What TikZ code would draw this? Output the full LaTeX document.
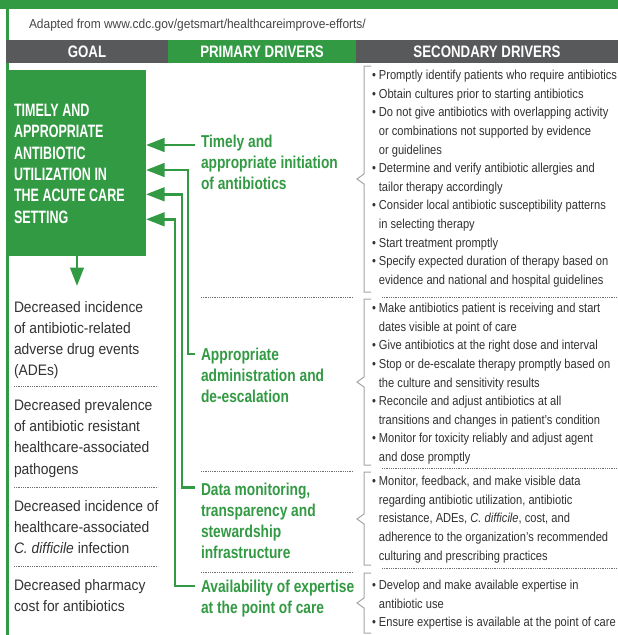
\documentclass[tikz,border=0pt]{standalone}
\usepackage{fontspec}
\setmainfont{Liberation Sans}
\newfontfamily\fsec{Liberation Sans}[FakeStretch=0.856]
\newfontfamily\fout{Liberation Sans}[FakeStretch=0.91]
\newfontfamily\fprim{Liberation Sans}[FakeStretch=0.80]
\newfontfamily\fgoal{Liberation Sans}[FakeStretch=0.70]
\newfontfamily\fhead{Liberation Sans}[FakeStretch=0.80]
\newfontfamily\fadapt{Liberation Sans}[FakeStretch=0.92]
\usetikzlibrary{arrows.meta}
\definecolor{gr}{RGB}{51,154,68}
\definecolor{hdr}{RGB}{88,89,91}
\definecolor{txt}{RGB}{50,50,50}
\definecolor{brc}{RGB}{165,165,165}
\definecolor{dotc}{RGB}{110,110,110}
\newcommand\bracegroup[3]{\draw[bracestyle] (371,#1) -- (364,#1) -- (364,#3-5) -- (357,#3) -- (364,#3+5) -- (364,#2) -- (371,#2);}
\tikzset{
  garrow/.style={draw=gr,line width=2.8pt,-{Triangle[length=18.5pt,width=13.5pt]}},
  dotline/.style={draw=dotc,line width=0.7pt,dash pattern=on 0.7pt off 1.1pt},
  bracestyle/.style={draw=brc,line width=1pt},
  txtnode/.style={anchor=base west,inner sep=0pt,outer sep=0pt},
  sectext/.style={txtnode,text=txt,font=\fsec\fontsize{13}{18.6}\selectfont},
  outtext/.style={txtnode,text=txt,font=\fout\fontsize{15.2}{21.2}\selectfont},
  primtext/.style={txtnode,text=gr,font=\fprim\bfseries\fontsize{17.2}{21.3}\selectfont},
  goaltext/.style={txtnode,text=white,font=\fgoal\bfseries\fontsize{17.9}{21.4}\selectfont},
  headbox/.style={inner sep=0pt,minimum height=23pt,text=white,font=\fhead\bfseries\fontsize{16.6}{19}\selectfont},
}
\begin{document}
\begin{tikzpicture}[x=1pt,y=-1pt]
\useasboundingbox (0,0) rectangle (618,635);
\fill[white] (0,0) rectangle (618,635);
% frame
\fill[gr] (0,0) rectangle (618,9);
\draw[gr,line width=3pt] (7.5,9) -- (7.5,635);
\node[txtnode,text=txt!90!white,font=\fadapt\fontsize{13}{16}\selectfont] (adapt) at (29,28) {Adapted from www.cdc.gov/getsmart/healthcareimprove-efforts/};
% header
\node[headbox,fill=hdr,minimum width=162pt] (hgoal) at (87,51.5) {GOAL};
\node[headbox,fill=gr,minimum width=188pt] (hprim) at (262,51.5) {PRIMARY DRIVERS};
\node[headbox,fill=hdr,minimum width=262pt] (hsec) at (487,51.5) {SECONDARY DRIVERS};
% goal box
\node[fill=gr,minimum width=140pt,minimum height=186pt,inner sep=0pt,anchor=north west] (goal) at (6,70) {};
\node[goaltext] (goaltxt) at (14,116.3) {\begin{tabular}[t]{@{}l@{}}TIMELY AND\\APPROPRIATE\\ANTIBIOTIC\\UTILIZATION IN\\THE ACUTE CARE\\SETTING\end{tabular}};
% outcomes
\node[outtext] (o1) at (14,312) {\begin{tabular}[t]{@{}l@{}}Decreased incidence\\of antibiotic-related\\adverse drug events\\(ADEs)\end{tabular}};
\node[outtext] (o2) at (14,410.5) {\begin{tabular}[t]{@{}l@{}}Decreased prevalence\\of antibiotic resistant\\healthcare-associated\\pathogens\end{tabular}};
\node[outtext] (o3) at (14,511.5) {\begin{tabular}[t]{@{}l@{}}Decreased incidence of\\healthcare-associated\\\textit{C. difficile} infection\end{tabular}};
\node[outtext] (o4) at (14,590.5) {\begin{tabular}[t]{@{}l@{}}Decreased pharmacy\\cost for antibiotics\end{tabular}};
\draw[dotline] (14,386) -- (158,386);
\draw[dotline] (14,487) -- (158,487);
\draw[dotline] (14,566) -- (158,566);
% primary drivers
\node[primtext] (p1) at (201,147) {\begin{tabular}[t]{@{}l@{}}Timely and\\appropriate initiation\\of antibiotics\end{tabular}};
\node[primtext] (p2) at (201,360) {\begin{tabular}[t]{@{}l@{}}Appropriate\\administration and\\de-escalation\end{tabular}};
\node[primtext] (p3) at (201,495) {\begin{tabular}[t]{@{}l@{}}Data monitoring,\\transparency and\\stewardship\\infrastructure\end{tabular}};
\node[primtext] (p4) at (201,592) {\begin{tabular}[t]{@{}l@{}}Availability of expertise\\at the point of care\end{tabular}};
\draw[dotline] (201,297) -- (353,297);
\draw[dotline] (201,471) -- (353,471);
\draw[dotline] (201,572) -- (353,572);
% secondary drivers
\node[sectext] (s1) at (372,79.6) {\begin{tabular}[t]{@{}l@{\hspace{3pt}}l@{}}
\textbullet & Promptly identify patients who require antibiotics\\
\textbullet & Obtain cultures prior to starting antibiotics\\
\textbullet & Do not give antibiotics with overlapping activity\\
 & or combinations not supported by evidence\\
 & or guidelines\\
\textbullet & Determine and verify antibiotic allergies and\\
 & tailor therapy accordingly\\
\textbullet & Consider local antibiotic susceptibility patterns\\
 & in selecting therapy\\
\textbullet & Start treatment promptly\\
\textbullet & Specify expected duration of therapy based on\\
 & evidence and national and hospital guidelines\end{tabular}};
\node[sectext] (s2) at (372,312.6) {\begin{tabular}[t]{@{}l@{\hspace{3pt}}l@{}}
\textbullet & Make antibiotics patient is receiving and start\\
 & dates visible at point of care\\
\textbullet & Give antibiotics at the right dose and interval\\
\textbullet & Stop or de-escalate therapy promptly based on\\
 & the culture and sensitivity results\\
\textbullet & Reconcile and adjust antibiotics at all\\
 & transitions and changes in patient’s condition\\
\textbullet & Monitor for toxicity reliably and adjust agent\\
 & and dose promptly\end{tabular}};
\node[sectext] (s3) at (372,485.6) {\begin{tabular}[t]{@{}l@{\hspace{3pt}}l@{}}
\textbullet & Monitor, feedback, and make visible data\\
 & regarding antibiotic utilization, antibiotic\\
 & resistance, ADEs, \textit{C. difficile}, cost, and\\
 & adherence to the organization’s recommended\\
 & culturing and prescribing practices\end{tabular}};
\node[sectext] (s4) at (372,589.6) {\begin{tabular}[t]{@{}l@{\hspace{3pt}}l@{}}
\textbullet & Develop and make available expertise in\\
 & antibiotic use\\
\textbullet & Ensure expertise is available at the point of care\end{tabular}};
\draw[dotline] (382,297) -- (618,297);
\draw[dotline] (382,468.5) -- (618,468.5);
\draw[dotline] (382,568) -- (618,568);
% braces
\bracegroup{66}{292}{179}
\bracegroup{299}{465}{382}
\bracegroup{472}{565}{519}
\bracegroup{573}{633}{603}
% connectors
\coordinate (a1) at (195,145);
\coordinate (a2) at (195,354);
\coordinate (a3) at (195,487.5);
\coordinate (a4) at (195,586);
\coordinate (t1) at (146,145);
\coordinate (t2) at (146,170);
\coordinate (t3) at (146,194.3);
\coordinate (t4) at (146,219.3);
\coordinate (dtop) at (77,256);
\coordinate (dn) at (77,286);
\draw[garrow] (a1) -- (t1);
\draw[garrow] (a2) -- ++(-7,0) |- (t2);
\draw[garrow] (a3) -- ++(-13,0) |- (t3);
\draw[garrow] (a4) -- ++(-20,0) |- (t4);
\draw[garrow] (dtop) -- (dn);
\end{tikzpicture}
\end{document}
